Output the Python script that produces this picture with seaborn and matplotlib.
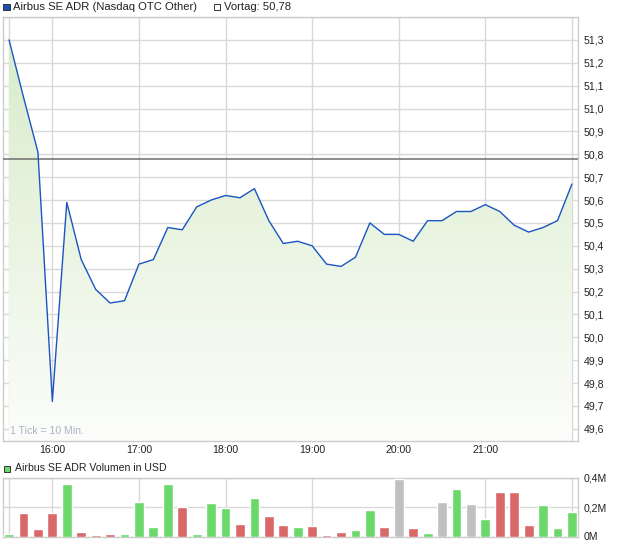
import numpy as np
import pandas as pd
import matplotlib
matplotlib.use('Agg')
import matplotlib.pyplot as plt
from matplotlib.patches import Rectangle
from matplotlib.ticker import FuncFormatter
import seaborn as sns

# --- Data (10-minute ticks, 15:30 - 22:00) ---
times = pd.date_range('2024-01-01 15:30', '2024-01-01 22:00', freq='10min')
price = [51.30, 51.05, 50.81, 49.72, 50.59, 50.34, 50.21, 50.15, 50.16, 50.32,
         50.34, 50.48, 50.47, 50.57, 50.60, 50.62, 50.61, 50.65, 50.51, 50.41,
         50.42, 50.40, 50.32, 50.31, 50.35, 50.50, 50.45, 50.45, 50.42, 50.51,
         50.51, 50.55, 50.55, 50.58, 50.55, 50.49, 50.46, 50.48, 50.51, 50.67]
volume_m = [0.014, 0.158, 0.048, 0.158, 0.357, 0.034, 0.007, 0.014, 0.014, 0.233,
            0.062, 0.357, 0.199, 0.014, 0.226, 0.192, 0.082, 0.261, 0.137, 0.075,
            0.062, 0.069, 0.007, 0.034, 0.041, 0.178, 0.062, 0.391, 0.055, 0.027,
            0.233, 0.322, 0.219, 0.117, 0.302, 0.302, 0.075, 0.213, 0.055, 0.165]
prev_close = 50.78
hour_labels = ['16:00', '17:00', '18:00', '19:00', '20:00', '21:00']
price_ticks = [49.6, 49.7, 49.8, 49.9, 50.0, 50.1, 50.2, 50.3, 50.4, 50.5,
               50.6, 50.7, 50.8, 50.9, 51.0, 51.1, 51.2, 51.3]
volume_ticks = [0.0, 0.2, 0.4]

df = pd.DataFrame({'time': times, 'price': price, 'volume': volume_m})
df['minute'] = (df['time'] - df['time'].iloc[0]).dt.total_seconds() / 60
change = np.round(np.diff(np.r_[prev_close, df['price'].values]), 4)
df['direction'] = np.where(change > 0, 'up', np.where(change < 0, 'down', 'flat'))

sns.set_style('white')
plt.rcParams['font.family'] = ['Liberation Sans', 'DejaVu Sans']

GRID = '#d9d9d9'
FS = 7.6
FS_LEG = 8.1
x_lo, x_hi = -4.4, 394.2
y_lo, y_hi = 49.547, 51.40

fig = plt.figure(figsize=(6.2, 5.46), dpi=100)
ax = fig.add_axes([2.7 / 620, 1 - 441 / 546, 575.3 / 620, 424 / 546])
axv = fig.add_axes([2.7 / 620, 1 - 536.5 / 546, 575.3 / 620, 58.8 / 546])

# --- Price panel ---
fill = ax.fill_between(df['minute'], df['price'], y_lo, facecolor='none', lw=0)
top_c = np.array([214, 235, 200]) / 255
bot_c = np.array([252, 253, 250]) / 255
t = np.linspace(0, 1, 256)[:, None]
grad = (bot_c[None, :] * (1 - t) + top_c[None, :] * t)[:, None, :]
im = ax.imshow(grad, extent=[x_lo, x_hi, y_lo, y_hi], origin='lower',
               aspect='auto', zorder=1, interpolation='bilinear')
im.set_clip_path(fill.get_paths()[0], transform=ax.transData)

sns.lineplot(data=df, x='minute', y='price', color='#1a55c2', lw=1.0, ax=ax, zorder=4)
ax.axhline(prev_close, color='#6e6e6e', lw=1.1, zorder=3)

ax.set_xlim(x_lo, x_hi)
ax.set_ylim(y_lo, y_hi)
hour_pos = [30 + 60 * i for i in range(len(hour_labels))]
ax.set_xticks([0] + hour_pos + [390])
ax.set_xticklabels([''] + hour_labels + [''])
ax.set_yticks(price_ticks + [51.4])
ax.yaxis.set_major_formatter(FuncFormatter(
    lambda v, p: '' if v > 51.35 else f'{v:.1f}'.replace('.', ',')))
ax.yaxis.tick_right()
ax.grid(True, color=GRID, lw=1, zorder=0)
ax.set_axisbelow(True)
ax.tick_params(axis='both', length=0, labelsize=FS, colors='#222222')
ax.tick_params(axis='y', pad=4)
ax.tick_params(axis='x', pad=3)
ax.set_xlabel('')
ax.set_ylabel('')
for s in ax.spines.values():
    s.set_color('#cccccc')
    s.set_linewidth(1)
ax.text(0.012, 0.012, '1 Tick = 10 Min.', transform=ax.transAxes,
        fontsize=FS, color='#aab3c6', ha='left', va='bottom', zorder=5)

# --- Volume panel ---
palette = {'up': '#6ad96a', 'down': '#d96868', 'flat': '#c0c0c0'}
sns.barplot(data=df, x='minute', y='volume', hue='direction', palette=palette,
            native_scale=True, dodge=False, width=0.68, saturation=1,
            errorbar=None, legend=False, ax=axv, zorder=3)
axv.set_xlim(x_lo, x_hi)
axv.set_ylim(0, 0.4)
axv.set_xticks([0] + hour_pos + [390])
axv.set_xticklabels([])
axv.set_yticks(volume_ticks)
axv.set_yticklabels(['0M', '0,2M', '0,4M'])
axv.yaxis.tick_right()
axv.grid(True, color=GRID, lw=1, zorder=0)
axv.set_axisbelow(True)
axv.tick_params(axis='both', length=0, labelsize=FS, colors='#222222')
axv.tick_params(axis='y', pad=4)
axv.set_xlabel('')
axv.set_ylabel('')
for s in axv.spines.values():
    s.set_color('#cccccc')
    s.set_linewidth(1)

# --- Legends ---
def px(x, y):
    return x / 620, 1 - y / 546

fig.add_artist(Rectangle(px(3, 10), 6.5 / 620, 6.5 / 546, transform=fig.transFigure,
                         facecolor='#1f4fae', edgecolor='#333333', lw=0.7))
fig.text(*px(13, 6.5), 'Airbus SE ADR (Nasdaq OTC Other)', fontsize=FS_LEG,
         va='center', ha='left', color='#222222')
fig.add_artist(Rectangle(px(213.5, 10), 6.5 / 620, 6.5 / 546, transform=fig.transFigure,
                         facecolor='white', edgecolor='#333333', lw=0.7))
fig.text(*px(224, 6.5), 'Vortag: 50,78', fontsize=FS_LEG,
         va='center', ha='left', color='#222222')
fig.add_artist(Rectangle(px(3.5, 472), 6.5 / 620, 6.5 / 546, transform=fig.transFigure,
                         facecolor='#6ad96a', edgecolor='#333333', lw=0.7))
fig.text(*px(15, 468), 'Airbus SE ADR Volumen in USD', fontsize=FS,
         va='center', ha='left', color='#222222')

fig.savefig('out.png', dpi=100)
plt.close(fig)
